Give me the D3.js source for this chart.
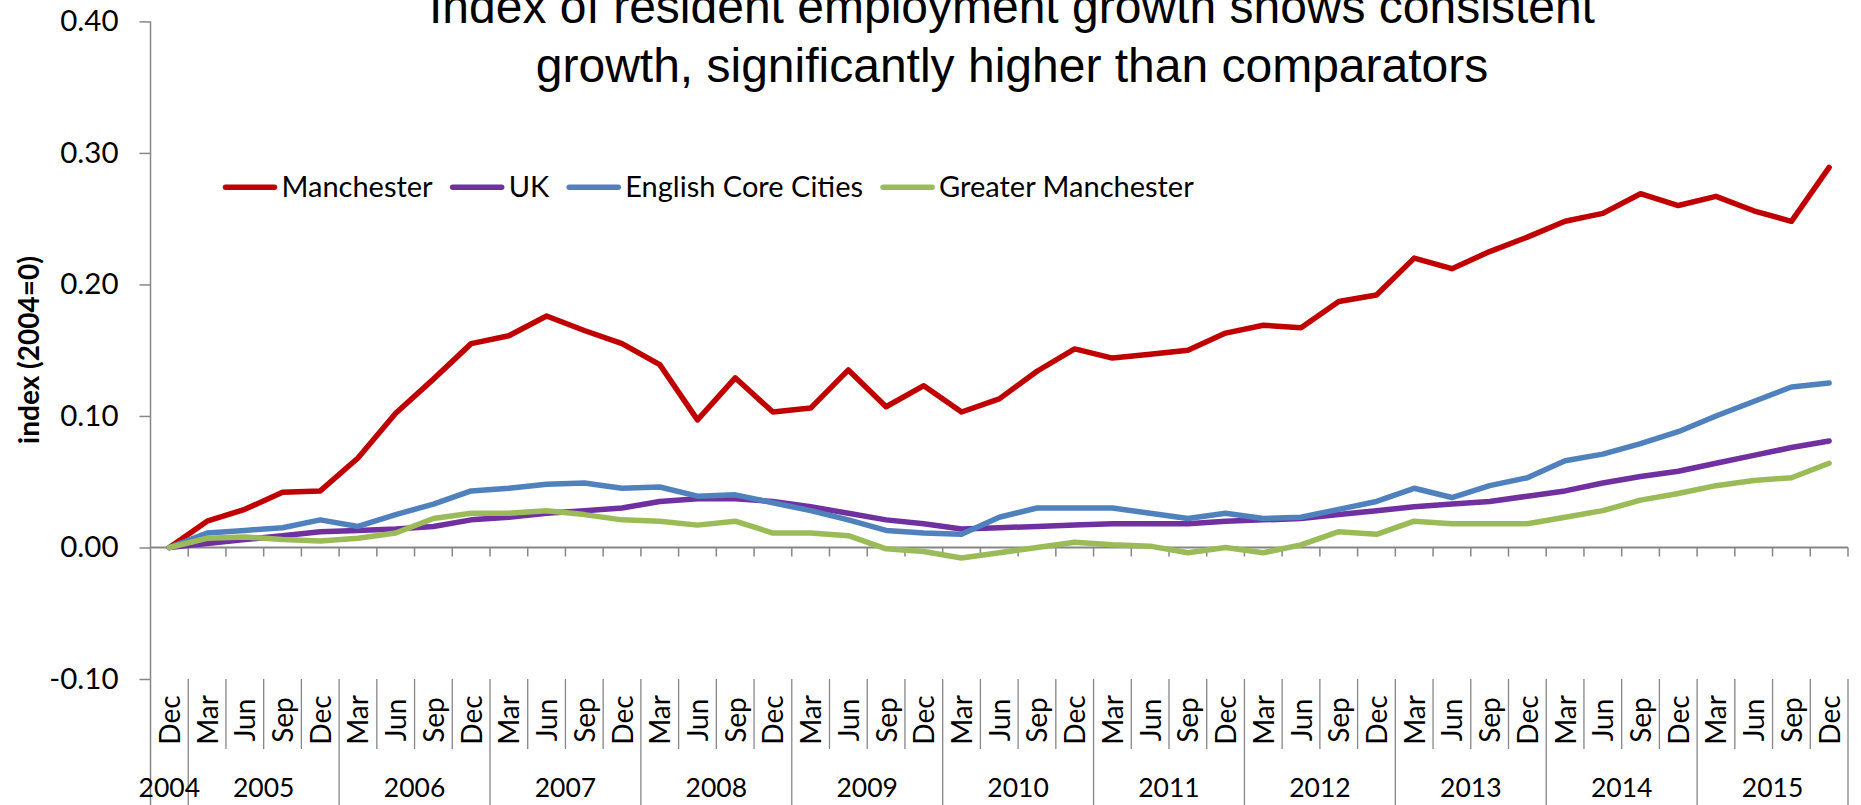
<!DOCTYPE html>
<html>
<head>
<meta charset="utf-8">
<script src="https://cdn.jsdelivr.net/npm/d3@7"></script>
<style>
  html, body { margin: 0; padding: 0; background: #fff; }
  svg { display: block; }
  text { fill: #000; }
</style>
</head>
<body>
<svg id="chart" width="1861" height="805"></svg>
<script>
// Quarterly periods, Dec 2004 to Dec 2015
const categories = [
  "Dec 2004",
  "Mar 2005", "Jun 2005", "Sep 2005", "Dec 2005",
  "Mar 2006", "Jun 2006", "Sep 2006", "Dec 2006",
  "Mar 2007", "Jun 2007", "Sep 2007", "Dec 2007",
  "Mar 2008", "Jun 2008", "Sep 2008", "Dec 2008",
  "Mar 2009", "Jun 2009", "Sep 2009", "Dec 2009",
  "Mar 2010", "Jun 2010", "Sep 2010", "Dec 2010",
  "Mar 2011", "Jun 2011", "Sep 2011", "Dec 2011",
  "Mar 2012", "Jun 2012", "Sep 2012", "Dec 2012",
  "Mar 2013", "Jun 2013", "Sep 2013", "Dec 2013",
  "Mar 2014", "Jun 2014", "Sep 2014", "Dec 2014",
  "Mar 2015", "Jun 2015", "Sep 2015", "Dec 2015"
];

// Employment index relative to 2004 (2004 = 0)
const manchester = [0, 0.020, 0.029, 0.042, 0.043, 0.068, 0.102, 0.128, 0.155, 0.161, 0.176, 0.165, 0.155, 0.139, 0.097,
  0.129, 0.103, 0.106, 0.135, 0.107, 0.123, 0.103, 0.113, 0.134, 0.151, 0.144, 0.147, 0.150, 0.163, 0.169,
  0.167, 0.187, 0.192, 0.220, 0.212, 0.225, 0.236, 0.248, 0.254, 0.269, 0.260, 0.267, 0.256, 0.248, 0.289];
const uk = [0, 0.003, 0.006, 0.009, 0.012, 0.013, 0.014, 0.016, 0.021, 0.023, 0.026, 0.028, 0.030, 0.035, 0.037,
  0.037, 0.035, 0.031, 0.026, 0.021, 0.018, 0.014, 0.015, 0.016, 0.017, 0.018, 0.018, 0.018, 0.020, 0.021,
  0.022, 0.025, 0.028, 0.031, 0.033, 0.035, 0.039, 0.043, 0.049, 0.054, 0.058, 0.064, 0.070, 0.076, 0.081];
const coreCities = [0, 0.011, 0.013, 0.015, 0.021, 0.016, 0.025, 0.033, 0.043, 0.045, 0.048, 0.049, 0.045, 0.046, 0.039,
  0.040, 0.034, 0.028, 0.021, 0.013, 0.011, 0.010, 0.023, 0.030, 0.030, 0.030, 0.026, 0.022, 0.026, 0.022,
  0.023, 0.029, 0.035, 0.045, 0.038, 0.047, 0.053, 0.066, 0.071, 0.079, 0.088, 0.100, 0.111, 0.122, 0.125];
const greaterManchester = [0, 0.007, 0.008, 0.006, 0.005, 0.007, 0.011, 0.022, 0.026, 0.026, 0.028, 0.025, 0.021, 0.020, 0.017,
  0.020, 0.011, 0.011, 0.009, -0.001, -0.003, -0.008, -0.004, 0.000, 0.004, 0.002, 0.001, -0.004, 0.000, -0.004,
  0.002, 0.012, 0.010, 0.020, 0.018, 0.018, 0.018, 0.023, 0.028, 0.036, 0.041, 0.047, 0.051, 0.053, 0.064];

const seriesNames = ["Manchester", "UK", "English Core Cities", "Greater Manchester"];
const seriesColors = ["#C00000", "#7030A0", "#4F81BD", "#9BBB59"];
const seriesValues = [manchester, uk, coreCities, greaterManchester];

const yTicks = [-0.10, 0.00, 0.10, 0.20, 0.30, 0.40];
const titleLines = ["Index of resident employment growth shows consistent",
                    "growth, significantly higher than comparators"];
const yTitle = "index (2004=0)";

const svg = d3.select("#chart");
const axisColor = "#868686";
const font = "Lato, 'Open Sans', sans-serif";

// Scales
const x = d3.scaleBand().domain(d3.range(categories.length)).range([150.5, 1848]).padding(0);
const y = d3.scaleLinear().domain([-0.1, 0.4]).range([679, 21.4]);
const cx = i => x(i) + x.bandwidth() / 2;
const edge = i => (i < categories.length ? x(i) : x.range()[1]);

// Value axis
const yAxis = d3.axisLeft(y).tickValues(yTicks).tickFormat(d => d.toFixed(2))
  .tickSize(11).tickPadding(21);
const gy = svg.append("g").attr("transform", "translate(150.5,0)").call(yAxis);
gy.select(".domain").remove();
gy.selectAll(".tick line").attr("stroke", axisColor).attr("stroke-width", 1.5);
gy.selectAll(".tick text").attr("font-family", font).attr("font-size", 29.5).attr("fill", "#000");
svg.append("line").attr("x1", 150.5).attr("x2", 150.5).attr("y1", y(0.4)).attr("y2", 805)
  .attr("stroke", axisColor).attr("stroke-width", 1.5);

// Category axis crossing at zero
svg.append("line").attr("x1", x.range()[0]).attr("x2", x.range()[1]).attr("y1", y(0)).attr("y2", y(0))
  .attr("stroke", axisColor).attr("stroke-width", 2);
svg.append("g").selectAll("line").data(d3.range(1, categories.length + 1)).join("line")
  .attr("x1", edge).attr("x2", edge).attr("y1", y(0)).attr("y2", y(0) + 9)
  .attr("stroke", axisColor).attr("stroke-width", 1.5);

// Two-level category labels at the bottom
const months = categories.map(c => c.split(" ")[0]);
const yearOf = categories.map(c => c.split(" ")[1]);
const isYearEdge = i => i === 0 || i === categories.length || yearOf[i] !== yearOf[i - 1];

const labelTop = y(-0.1);
svg.append("g").selectAll("line").data(d3.range(1, categories.length + 1)).join("line")
  .attr("x1", edge).attr("x2", edge)
  .attr("y1", labelTop)
  .attr("y2", i => isYearEdge(i) ? 805 : 749)
  .attr("stroke", axisColor).attr("stroke-width", 1.3);

svg.append("g").selectAll("text").data(months).join("text")
  .attr("transform", (d, i) => `translate(${cx(i) + 10.5},720) rotate(-90)`)
  .attr("text-anchor", "middle")
  .attr("font-family", font).attr("font-size", 28)
  .text(d => d);

const years = Array.from(new Set(yearOf));
svg.append("g").selectAll("text").data(years).join("text")
  .attr("x", yr => {
    const first = yearOf.indexOf(yr), last = yearOf.lastIndexOf(yr);
    return (edge(first) + edge(last + 1)) / 2;
  })
  .attr("y", 797)
  .attr("text-anchor", "middle")
  .attr("font-family", font).attr("font-size", 26.5)
  .text(d => d);

// Value axis title
svg.append("text")
  .attr("transform", "translate(38.5,350) rotate(-90)")
  .attr("text-anchor", "middle")
  .attr("font-family", font).attr("font-size", 28).attr("font-weight", "bold")
  .text(yTitle);

// Series lines
const line = d3.line().x((d, i) => cx(i)).y(d => y(d));
svg.append("g").selectAll("path").data(seriesValues).join("path")
  .attr("d", line)
  .attr("fill", "none")
  .attr("stroke", (d, i) => seriesColors[i])
  .attr("stroke-width", 5.5)
  .attr("stroke-linejoin", "round")
  .attr("stroke-linecap", "round");

// Chart title
svg.append("g").selectAll("text").data(titleLines).join("text")
  .attr("x", 1012).attr("y", (d, i) => 23 + i * 59)
  .attr("text-anchor", "middle")
  .attr("font-family", "'Liberation Sans', Arial, sans-serif").attr("font-size", 48)
  .text(d => d);

// Legend
const legend = svg.append("g");
let lx = 223;
seriesNames.forEach((name, i) => {
  legend.append("line")
    .attr("x1", lx + 2.5).attr("x2", lx + 51.5).attr("y1", 187.3).attr("y2", 187.3)
    .attr("stroke", seriesColors[i]).attr("stroke-width", 5.5).attr("stroke-linecap", "round");
  const t = legend.append("text")
    .attr("x", lx + 58.5).attr("y", 197.3)
    .attr("font-family", font).attr("font-size", 29)
    .text(name);
  lx += 58.5 + t.node().getComputedTextLength() + 17.5;
});
</script>
</body>
</html>
